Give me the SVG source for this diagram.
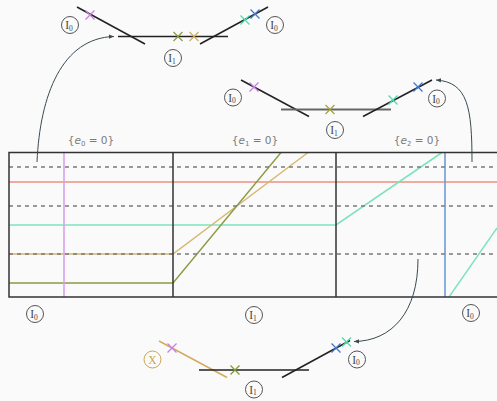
<svg xmlns="http://www.w3.org/2000/svg" xmlns:xlink="http://www.w3.org/1999/xlink" width="497" height="401" viewBox="0 0 497 401">
<style>
.frame{stroke:#333;stroke-width:1.5;fill:none}
.dash{stroke:#7a7a7a;stroke-width:1.6;stroke-dasharray:4 4;fill:none}
.seg{stroke:#222;stroke-width:1.5;fill:none}
.lbl{fill:none;stroke:#555;stroke-width:1}
.lt{font-family:"Liberation Serif",serif;font-size:11.5px;fill:#444;text-anchor:middle}
.eq{font-family:"DejaVu Sans",sans-serif;font-size:10.5px;fill:#7a7a7a;text-anchor:middle}
.arr{stroke:#3b4a50;stroke-width:1;fill:none;marker-end:url(#ah)}
.cr{stroke-width:1.3;fill:none}
</style>
<defs>
<path id="x" d="M-4.5,-4.5 L4.5,4.5 M-4.5,4.5 L4.5,-4.5"/>
<marker id="ah" markerWidth="6" markerHeight="6" refX="5" refY="3" orient="auto" markerUnits="userSpaceOnUse">
<path d="M0,0.8 L5,3 L0,5.2 z" fill="#3b4a50"/>
</marker>
</defs>
<rect width="497" height="401" fill="#fafafa"/>

<g id="grid">
<line x1="9" y1="182" x2="497" y2="182" stroke="#ec8f80" stroke-width="1.6"/>
<polyline points="9,225 336,225 442,152.5" stroke="#7de3bd" stroke-width="1.6" fill="none"/>
<line x1="449" y1="297" x2="497" y2="228" stroke="#7de3bd" stroke-width="1.4"/>
<polyline points="9,254 173,254 308,152.5" stroke="#d6b76c" stroke-width="1.4" fill="none"/>
<polyline points="9,283 173,283 281,152.5" stroke="#8d9b42" stroke-width="1.4" fill="none"/>
<line x1="64" y1="152.5" x2="64" y2="297" stroke="#d8a2ea" stroke-width="1.6"/>
<line x1="445" y1="152.5" x2="445" y2="297" stroke="#6c9bd8" stroke-width="1.6"/>
<line class="dash" x1="9" y1="167" x2="497" y2="167"/>
<line class="dash" x1="9" y1="206" x2="497" y2="206"/>
<line class="dash" x1="9" y1="254" x2="497" y2="254"/>
<path class="frame" d="M497,152.5 H9 V297 H497 M173,152.5 V297 M336,152.5 V297"/>
<text class="eq" x="91" y="144">{<tspan font-style="italic">e</tspan><tspan font-size="7" dy="1.5">0</tspan><tspan dy="-1.5"> = 0}</tspan></text>
<text class="eq" x="255" y="144">{<tspan font-style="italic">e</tspan><tspan font-size="7" dy="1.5">1</tspan><tspan dy="-1.5"> = 0}</tspan></text>
<text class="eq" x="417" y="144">{<tspan font-style="italic">e</tspan><tspan font-size="7" dy="1.5">2</tspan><tspan dy="-1.5"> = 0}</tspan></text>
</g>

<g id="grid-labels">
<circle class="lbl" cx="35" cy="314" r="8.5"/><text class="lt" x="34" y="318">I<tspan font-size="7.5" dy="1.5">0</tspan></text>
<circle class="lbl" cx="254" cy="315" r="8.5"/><text class="lt" x="253" y="319">I<tspan font-size="7.5" dy="1.5">1</tspan></text>
<circle class="lbl" cx="471" cy="313" r="8.5"/><text class="lt" x="470" y="317">I<tspan font-size="7.5" dy="1.5">0</tspan></text>
</g>

<g id="top-left">
<line class="seg" x1="77" y1="7" x2="145" y2="44"/>
<line class="seg" x1="118" y1="36.5" x2="228" y2="36.5"/>
<line class="seg" x1="200" y1="44" x2="268" y2="7"/>
<use href="#x" x="90" y="15" class="cr" stroke="#c77fe0"/>
<use href="#x" x="178" y="36.5" class="cr" stroke="#8d9b42"/>
<use href="#x" x="194" y="36.5" class="cr" stroke="#d2ad5e"/>
<use href="#x" x="245" y="20" class="cr" stroke="#4fdca8"/>
<use href="#x" x="255" y="14" class="cr" stroke="#3f78d0"/>
<circle class="lbl" cx="70" cy="25" r="8.5"/><text class="lt" x="69" y="29">I<tspan font-size="7.5" dy="1.5">0</tspan></text>
<circle class="lbl" cx="275" cy="25" r="8.5"/><text class="lt" x="274" y="29">I<tspan font-size="7.5" dy="1.5">0</tspan></text>
<circle class="lbl" cx="173" cy="58" r="8.5"/><text class="lt" x="172" y="62">I<tspan font-size="7.5" dy="1.5">1</tspan></text>
</g>

<g id="middle">
<line class="seg" x1="241" y1="80" x2="309" y2="116.5"/>
<line x1="281" y1="109.5" x2="391" y2="109.5" stroke="#666" stroke-width="2"/>
<line class="seg" x1="363" y1="116.5" x2="432" y2="80"/>
<use href="#x" x="254" y="87" class="cr" stroke="#c77fe0"/>
<use href="#x" x="330" y="109.5" class="cr" stroke="#a6a43f"/>
<use href="#x" x="393" y="100" class="cr" stroke="#4fdca8"/>
<use href="#x" x="418" y="87" class="cr" stroke="#3f78d0"/>
<circle class="lbl" cx="233" cy="97.5" r="8.5"/><text class="lt" x="232" y="101.5">I<tspan font-size="7.5" dy="1.5">0</tspan></text>
<circle class="lbl" cx="437" cy="98.5" r="8.5"/><text class="lt" x="436" y="102.5">I<tspan font-size="7.5" dy="1.5">0</tspan></text>
<circle class="lbl" cx="335" cy="130" r="8.5"/><text class="lt" x="334" y="134">I<tspan font-size="7.5" dy="1.5">1</tspan></text>
</g>

<g id="bottom">
<line x1="159" y1="341" x2="227" y2="377.5" stroke="#d2ad5e" stroke-width="1.5"/>
<line class="seg" x1="199" y1="370" x2="309" y2="370"/>
<line class="seg" x1="282" y1="377.5" x2="350" y2="340.5"/>
<use href="#x" x="172" y="348" class="cr" stroke="#c77fe0"/>
<use href="#x" x="235" y="370" class="cr" stroke="#7f9a32"/>
<use href="#x" x="336" y="348" class="cr" stroke="#3f78d0"/>
<use href="#x" x="346.5" y="342" class="cr" stroke="#4fdca8"/>
<circle cx="152.5" cy="359.5" r="8.5" fill="none" stroke="#c9a550" stroke-width="1"/>
<text x="152.5" y="363.5" font-family="Liberation Serif,serif" font-size="11.5" fill="#c9a550" text-anchor="middle">X</text>
<circle class="lbl" cx="357" cy="359.5" r="8.5"/><text class="lt" x="356" y="363.5">I<tspan font-size="7.5" dy="1.5">0</tspan></text>
<circle class="lbl" cx="254" cy="389.5" r="8.5"/><text class="lt" x="253" y="393.5">I<tspan font-size="7.5" dy="1.5">1</tspan></text>
</g>

<g id="connectors">
<path class="arr" d="M37,162 C40,95 62,38 114,36.5"/>
<path class="arr" d="M472,162 C472,108 468,82 436,80"/>
<path class="arr" d="M418,259 C418,312 392,341 354,341.5"/>
</g>
</svg>
